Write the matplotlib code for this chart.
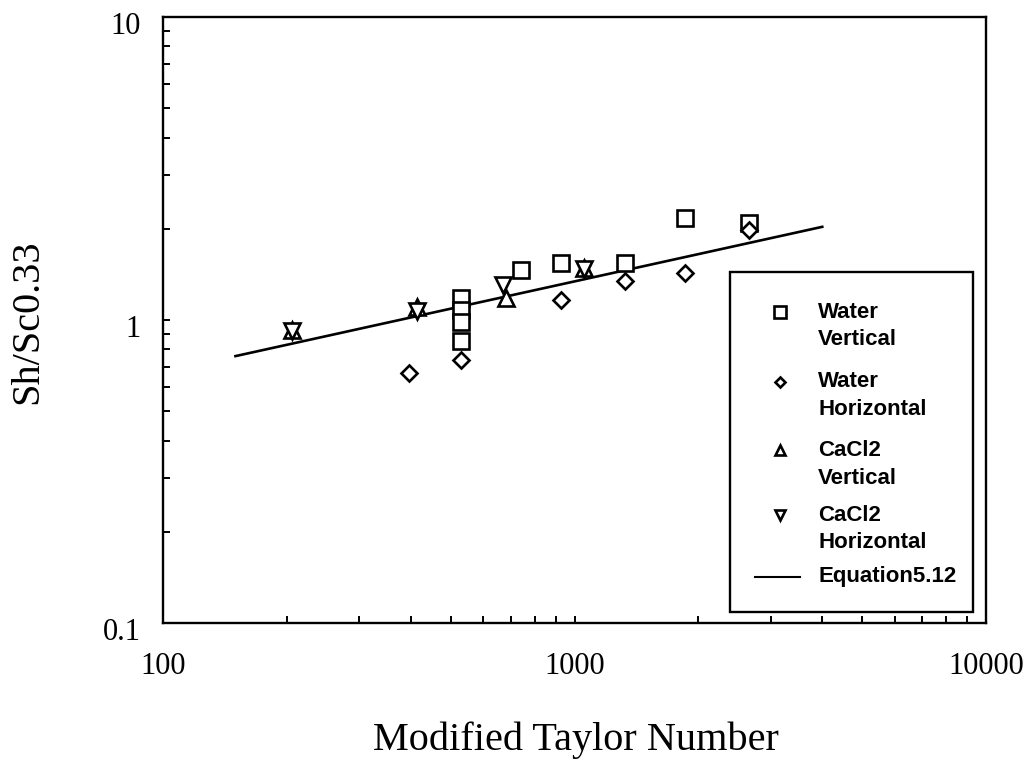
import numpy as np
import matplotlib
matplotlib.use("Agg")
import matplotlib.pyplot as plt
from matplotlib.patches import Rectangle
from matplotlib.transforms import ScaledTranslation

# Modified Taylor number vs Sh/Sc^0.33
ta_water_v = [529, 529, 529, 529, 743, 929, 1325, 1853, 2649]
sh_water_v = [1.18, 1.08, 0.985, 0.853, 1.46, 1.54, 1.54, 2.17, 2.09]

ta_water_h = [395, 529, 929, 1325, 1853, 2649]
sh_water_h = [0.668, 0.74, 1.16, 1.35, 1.43, 1.98]

ta_cacl_v = [206, 415, 680, 1052]
sh_cacl_v = [0.93, 1.10, 1.18, 1.48]

ta_cacl_h = [206, 415, 671, 1052]
sh_cacl_h = [0.92, 1.07, 1.30, 1.47]

# Equation 5.12 (straight line on log-log), end points
ta_eq = [150, 4000]
sh_eq = [0.76, 2.03]

legend_rows = [("s", 8, ["Water", "Vertical"]),
               ("D", 5.5, ["Water", "Horizontal"]),
               ("^", 7, ["CaCl2", "Vertical"]),
               ("v", 7, ["CaCl2", "Horizontal"])]

SERIF = "Liberation Serif"
SANS = "Liberation Sans"

fig = plt.figure(figsize=(10.33, 7.66), dpi=100)
ax = fig.add_axes([0.1578, 0.1867, 0.7967, 0.7911])

mk = dict(ls="none", mfc="white", mec="black", mew=1.9)
ax.plot(ta_eq, sh_eq, color="black", lw=1.9, zorder=2)
ax.plot(ta_water_v, sh_water_v, marker="s", ms=11.5, zorder=3, **mk)
ax.plot(ta_water_h, sh_water_h, marker="D", ms=8.6, zorder=3, **mk)
ax.plot(ta_cacl_v, sh_cacl_v, marker="^", ms=11, zorder=4, **mk)
ax.plot(ta_cacl_h, sh_cacl_h, marker="v", ms=11, zorder=4, **mk)

ax.set_xscale("log")
ax.set_yscale("log")
ax.set_xlim(100, 10000)
ax.set_ylim(0.1, 10)
ax.set_xticks([100, 1000, 10000])
ax.set_xticklabels(["100", "1000", "10000"])
ax.set_yticks([0.1, 1, 10])
ax.set_yticklabels(["0.1", "1", "10"])

for s in ax.spines.values():
    s.set_linewidth(1.7)
ax.tick_params(which="both", direction="in", top=False, right=False,
               length=5, width=1.4)
ax.tick_params(axis="both", which="major", labelsize=22)
ax.tick_params(axis="x", which="major", pad=21)
ax.tick_params(axis="y", which="major", pad=16)
for lab in ax.get_xticklabels() + ax.get_yticklabels():
    lab.set_fontfamily(SERIF)
for lab in ax.get_yticklabels():
    lab.set_transform(lab.get_transform() + ScaledTranslation(0, -6 / 100, fig.dpi_scale_trans))

ax.set_xlabel("Modified Taylor Number", fontsize=29, family=SERIF)
ax.xaxis.set_label_coords(0.502, -0.193)
ax.xaxis.label.set_va("center")
ax.set_ylabel("Sh/Sc0.33", fontsize=29, family=SERIF)
ax.yaxis.set_label_coords(-0.164, 0.497)
ax.yaxis.label.set_va("center")

# hand-built legend box (markers sit on the first line of each two-line label)
ax.add_patch(Rectangle((0.689, 0.018), 0.295, 0.561, transform=ax.transAxes,
                       fill=False, lw=1.7, ec="black", zorder=5))
ys = [0.513, 0.398, 0.285, 0.178]
for (m, ms, lines), y in zip(legend_rows, ys):
    ax.plot([0.750], [y], marker=m, ms=ms, transform=ax.transAxes, clip_on=False, **mk)
    ax.text(0.796, y, lines[0], transform=ax.transAxes, fontsize=16, family=SANS,
            weight="bold", va="center", ha="left")
    ax.text(0.796, y - 0.046, lines[1], transform=ax.transAxes, fontsize=16, family=SANS,
            weight="bold", va="center", ha="left")
ax.plot([0.719, 0.774], [0.076, 0.076], color="black", lw=1.5, transform=ax.transAxes)
ax.text(0.796, 0.076, "Equation5.12", transform=ax.transAxes, fontsize=16, family=SANS,
        weight="bold", va="center", ha="left")

fig.savefig("out.png", dpi=100)
